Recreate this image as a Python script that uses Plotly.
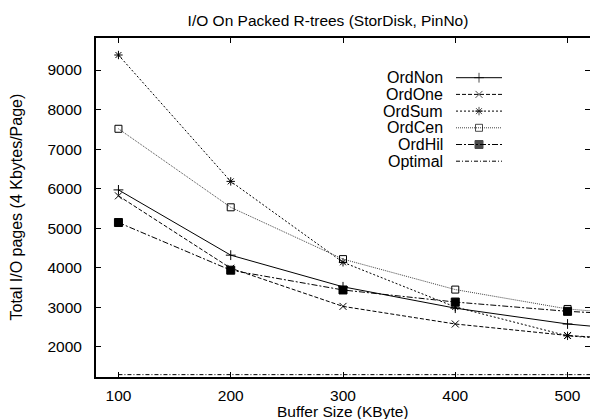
import plotly.graph_objects as go

# ---------------- data ----------------
buffer_kb = [100, 200, 300, 400, 500, 600]
ord_non = [5970, 4320, 3520, 2980, 2580, 2320]
ord_one = [5820, 3990, 3025, 2580, 2290, 2110]
ord_sum = [9380, 6185, 4140, 3010, 2280, 2080]
ord_cen = [7515, 5530, 4220, 3450, 2960, 2720]
ord_hil = [5145, 3940, 3440, 3135, 2900, 2750]
optimal = [1300, 1300, 1300, 1300, 1300, 1300]

series_names = ["OrdNon", "OrdOne", "OrdSum", "OrdCen", "OrdHil", "Optimal"]
series_values = [ord_non, ord_one, ord_sum, ord_cen, ord_hil, optimal]

x_tick_vals = [100, 200, 300, 400, 500]
y_tick_vals = [2000, 3000, 4000, 5000, 6000, 7000, 8000, 9000]

title_text = "I/O On Packed R-trees (StorDisk, PinNo)"
x_title = "Buffer Size (KByte)"
y_title = "Total I/O pages (4 Kbytes/Page)"

# ---------------- styles ----------------
styles = {
    "OrdNon": dict(dash="solid", color="#000000", symbol="cross-thin-open", size=7, mode="lines+markers"),
    "OrdOne": dict(dash="4px,2px", color="#000000", symbol="x-thin-open", size=7, mode="lines+markers"),
    "OrdSum": dict(dash="2px,2px", color="#000000", symbol="asterisk-open", size=7, mode="lines+markers"),
    "OrdCen": dict(dash="1px,1px", color="#444444", symbol="square-open", size=7, mode="lines+markers"),
    "OrdHil": dict(dash="6px,2px,2px,2px", color="#000000", symbol="square", size=8, mode="lines+markers"),
    "Optimal": dict(dash="4px,2px,1px,2px", color="#000000", symbol="circle", size=0, mode="lines"),
}

FONT = "Liberation Sans, Arial, Helvetica, sans-serif"
W, H = 590, 419
ML, MR, MT, MB = 96, 0, 38, 42
PW, PH = W - ML - MR, H - MT - MB

fig = go.Figure()

for name, vals in zip(series_names, series_values):
    s = styles[name]
    fig.add_trace(go.Scatter(
        x=buffer_kb, y=vals, name=name, mode=s["mode"],
        line=dict(color=s["color"], width=1, dash=s["dash"]),
        marker=dict(symbol=s["symbol"], size=s["size"], color="#000000",
                    line=dict(color="#000000", width=1)),
        showlegend=False,
    ))

# invisible trace so that the right-side tick axis is drawn
fig.add_trace(go.Scatter(x=[None], y=[None], xaxis="x", yaxis="y3",
                         showlegend=False, hoverinfo="skip"))

# ---------------- manual legend (text left, sample right) ----------------
def px_to_paper_x(px):
    return (px - ML) / PW

def px_to_paper_y(py):
    return 1 - (py - MT) / PH

leg_text_right = px_to_paper_x(445)
leg_line_x0 = px_to_paper_x(456)
leg_line_x1 = px_to_paper_x(502)
leg_mark_x = px_to_paper_x(479)
leg_row0 = 77.7
leg_step = 16.7

annotations = []
for i, name in enumerate(series_names):
    s = styles[name]
    yy = px_to_paper_y(leg_row0 + i * leg_step)
    fig.add_trace(go.Scatter(
        x=[leg_line_x0, leg_mark_x, leg_line_x1], y=[yy, yy, yy],
        xaxis="x2", yaxis="y2", mode=s["mode"],
        line=dict(color=s["color"], width=1, dash=s["dash"]),
        marker=dict(symbol=s["symbol"], size=[0, s["size"], 0], color="#000000",
                    line=dict(color="#000000", width=1)),
        showlegend=False, hoverinfo="skip", cliponaxis=False,
    ))
    annotations.append(dict(
        x=leg_text_right, y=yy, xref="paper", yref="paper", text=name,
        showarrow=False, xanchor="right", yanchor="middle",
        font=dict(family=FONT, size=16, color="#000000"),
    ))

annotations.append(dict(
    x=0.5, y=px_to_paper_y(411.5), xref="paper", yref="paper", text=x_title,
    showarrow=False, xanchor="center", yanchor="middle",
    font=dict(family=FONT, size=15.5, color="#000000"),
))
annotations.append(dict(
    x=px_to_paper_x(16), y=0.5, xref="paper", yref="paper", text=y_title,
    showarrow=False, xanchor="center", yanchor="middle", textangle=-90,
    font=dict(family=FONT, size=16, color="#000000"),
))

axis_common = dict(
    ticks="inside", ticklen=5, tickwidth=1, tickcolor="#000000",
    showgrid=False, zeroline=False, automargin=False,
    tickfont=dict(family=FONT, size=15.5, color="#000000"),
)

fig.update_layout(
    width=W, height=H,
    margin=dict(l=ML, r=MR, t=MT, b=MB, pad=0, autoexpand=False),
    paper_bgcolor="white", plot_bgcolor="white",
    title=dict(text=title_text, x=328 / W, xref="container", xanchor="center",
               y=1 - 20.5 / H, yref="container", yanchor="middle",
               font=dict(family=FONT, size=15.5, color="#000000")),
    xaxis=dict(range=[80, 520], tickvals=x_tick_vals, showline=True, linewidth=2,
               linecolor="#000000", mirror="ticks", ticklabelstandoff=3, **axis_common),
    yaxis=dict(range=[1240, 9810], tickvals=y_tick_vals, showline=True, linewidth=2,
               linecolor="#000000", mirror=False, ticklabelstandoff=9, **axis_common),
    yaxis3=dict(range=[1240, 9810], tickvals=y_tick_vals, overlaying="y", side="right",
                anchor="x", showline=False, showticklabels=False, **axis_common),
    xaxis2=dict(range=[0, 1], overlaying="x", visible=False),
    yaxis2=dict(range=[0, 1], overlaying="y", visible=False),
    annotations=annotations,
    showlegend=False,
)

fig.write_html("out.html",
               config={"displayModeBar": False},
               post_script="document.body.style.margin='0px';document.body.style.overflow='hidden';")
